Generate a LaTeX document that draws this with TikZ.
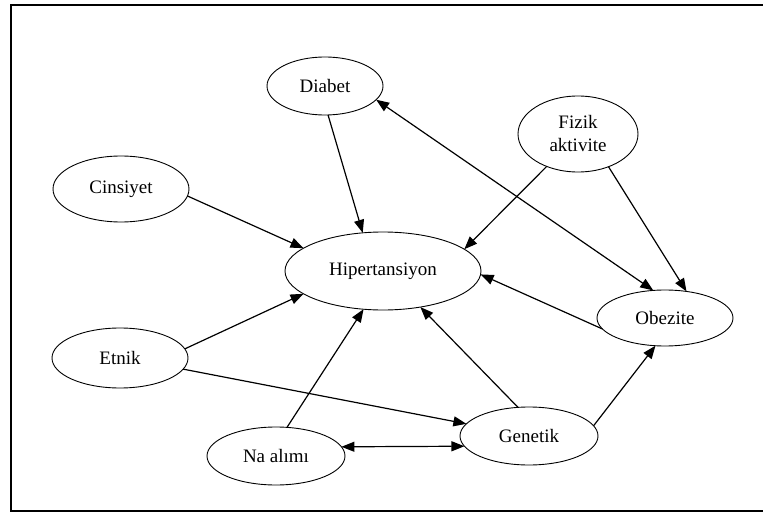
\documentclass[tikz,border=0pt]{standalone}
\usepackage{fontspec}
\setmainfont{Liberation Serif}
\usetikzlibrary{arrows.meta,shapes.geometric}
\begin{document}
\begin{tikzpicture}[x=1pt,y=-1pt,
  ell/.style={ellipse,draw,line width=0.9pt,inner sep=0pt,outer sep=0pt,
    font=\fontsize{19}{23}\selectfont,align=center},
  con/.style={line width=1.2pt,-{Triangle[length=13pt,width=10pt]}},
  bicon/.style={line width=1.2pt,{Triangle[length=13pt,width=10pt]}-{Triangle[length=13pt,width=10pt]}}]
\useasboundingbox (0,0) rectangle (763,513);
\draw[line width=2.6pt] (763,5) -- (11,5) -- (11,511) -- (763,511);

\node[ell,minimum width=116pt,minimum height=58pt] (diab) at (325,86) {Diabet};
\node[ell,minimum width=136pt,minimum height=66pt] (cins) at (121,189) {Cinsiyet};
\node[ell,minimum width=120pt,minimum height=76pt] (fiz) at (578,134) {Fizik\\aktivite};
\node[ell,minimum width=196pt,minimum height=78pt] (hip) at (383,271) {Hipertansiyon};
\node[ell,minimum width=136pt,minimum height=56pt] (obez) at (665,318) {Obezite};
\node[ell,minimum width=136pt,minimum height=60pt] (etn) at (120,358) {Etnik};
\node[ell,minimum width=138pt,minimum height=58pt] (na) at (276,456) {Na alımı};
\node[ell,minimum width=138pt,minimum height=58pt] (gen) at (529,436) {Genetik};

\draw[con] (diab.-84) -- (hip.118);
\draw[con] (cins.-6) -- (hip.164);
\draw[con] (fiz.-134) -- (hip.15);
\draw[bicon] (obez.113) -- (diab.-15);
\draw[con] (fiz.-47) -- (obez.51);
\draw[con] (obez.-170) -- (hip.-2);
\draw[con] (etn.8) -- (hip.-164);
\draw[con] (etn.-10) -- (gen.169);
\draw[con] (na.69) -- (hip.-117);
\draw[con] (gen.111) -- (hip.-44);
\draw[bicon] (na.8.8) -- (gen.-171.2);
\draw[con] (gen.9) -- (obez.-109);
\end{tikzpicture}
\end{document}
